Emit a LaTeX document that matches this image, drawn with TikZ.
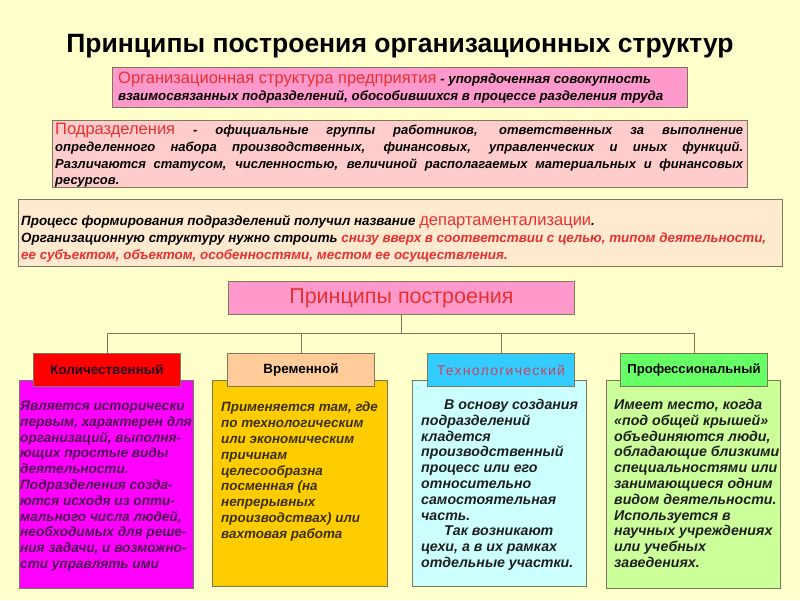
\documentclass[tikz,border=0pt]{standalone}
\usepackage{fontspec}
\setmainfont{Liberation Sans}
\definecolor{bg}{HTML}{FFFFCC}
\definecolor{pinkA}{HTML}{FF99CC}
\definecolor{pinkB}{HTML}{FFCCCC}
\definecolor{peachC}{HTML}{FFE9CF}
\definecolor{edge}{HTML}{7A7A5A}
\definecolor{redtxt}{HTML}{E8312F}
\definecolor{hred}{HTML}{FF0000}
\definecolor{hpeach}{HTML}{FFCC99}
\definecolor{hcyan}{HTML}{33CCFF}
\definecolor{hgreen}{HTML}{66FF66}
\definecolor{bmag}{HTML}{FF00FF}
\definecolor{bgold}{HTML}{FFCC00}
\definecolor{bcyan}{HTML}{CCFFFF}
\definecolor{bgreen}{HTML}{CCFF99}
\definecolor{tmag}{HTML}{4B0050}
\definecolor{tgold}{HTML}{3A3000}
\definecolor{ttech}{HTML}{D04060}
\definecolor{tdark}{HTML}{1E1E1E}
\begin{document}
\begin{tikzpicture}[x=1pt,y=-1pt,
  box/.style={draw=edge, line width=0.9pt, inner sep=0pt, anchor=north west},
  txt/.style={inner sep=0pt, anchor=north west, align=left},
  bi/.style={font=\fontsize{#1}{15.8}\selectfont\bfseries\itshape},
  hdr/.style={box, minimum height=33pt, minimum width=147pt},
  conn/.style={draw=edge, line width=0.9pt}]
\path[fill=bg] (0,0) rectangle (800,600);
% title
\node[font=\fontsize{26.5}{30}\selectfont\bfseries] (title) at (400,46) {Принципы построения организационных структур};
% box 1
\node[box, fill=pinkA, minimum width=575pt, minimum height=40pt] (def) at (112,67) {};
\node[txt, font=\fontsize{13.3}{17}\selectfont] (deft) at (118,72)
 {{\fontsize{16.5}{17}\selectfont\color{redtxt}Организационная структура предприятия} \textbf{\textit{- упорядоченная совокупность}}\\
  \textbf{\textit{взаимосвязанных подразделений, обособившихся в процессе разделения труда}}};
% box 2
\node[box, fill=pinkB, minimum width=695pt, minimum height=67pt] (sub) at (52,120) {};
\node[txt, font=\fontsize{13}{16.8}\selectfont\bfseries\itshape] (subt) at (55,123)
 {\makebox[688pt][s]{{\fontsize{16.5}{16.8}\selectfont\mdseries\upshape\color{redtxt}Подразделения} - официальные группы работников, ответственных за выполнение}\\
  \makebox[688pt][s]{определенного набора производственных, финансовых, управленческих и иных функций.}\\
  \makebox[688pt][s]{Различаются статусом, численностью, величиной располагаемых материальных и финансовых}\\
  ресурсов.};
% box 3
\node[box, fill=peachC, minimum width=764pt, minimum height=67pt] (proc) at (18,199) {};
\node[txt, font=\fontsize{13.4}{17.2}\selectfont\bfseries\itshape] (proct) at (21,215)
 {Процесс формирования подразделений получил название {\fontsize{16.5}{17.2}\selectfont\mdseries\upshape\color{redtxt}департаментализации}.\\
  Организационную структуру нужно строить {\color{redtxt}снизу вверх в соответствии с целью, типом деятельности,}\\
  {\color{redtxt}ее субъектом, объектом, особенностями, местом ее осуществления.}};
% principles
\node[box, fill=pinkA, minimum width=346pt, minimum height=33pt] (prin) at (228,281) {};
\node[font=\fontsize{21.5}{24}\selectfont, text=redtxt] (print) at (prin.center) {Принципы построения};
% bodies
\node[box, fill=bmag, minimum width=174pt, minimum height=208pt] (b1) at (19,380) {};
\node[box, fill=bgold, minimum width=175pt, minimum height=206pt] (b2) at (212,380) {};
\node[box, fill=bcyan, minimum width=174pt, minimum height=206pt] (b3) at (412,380) {};
\node[box, fill=bgreen, minimum width=174pt, minimum height=208pt] (b4) at (606,380) {};
% headers
\node[hdr, fill=hred] (h1) at (33,353) {};
\node[font=\fontsize{13.4}{15}\selectfont\bfseries, text=tmag!40!black] at (h1.center) {Количественный};
\node[hdr, fill=hpeach] (h2) at (227,353) {};
\node[font=\fontsize{13.4}{15}\selectfont\bfseries, text=black] at (h2.center) {Временной};
\node[hdr, fill=hcyan] (h3) at (427,353) {};
\node[font=\fontsize{14}{15}\selectfont\addfontfeature{LetterSpace=9}, text=ttech] at (h3.center) {Технологический};
\node[hdr, fill=hgreen] (h4) at (620,353) {};
\node[font=\fontsize{13.1}{15}\selectfont\bfseries, text=black] at (h4.center) {Профессиональный};
% connectors
\coordinate (bus) at (400,333);
\draw[conn] (prin.south) -- (prin.south |- bus);
\draw[conn] (h1.north) -- (h1.north |- bus) -- (h4.north |- bus) -- (h4.north);
\draw[conn] (h2.north) -- (h2.north |- bus);
\draw[conn] (h3.north) -- (h3.north |- bus);
% body texts
\node[txt, bi=13.6, text=tmag] (t1) at (20,401)
 {Является исторически\\первым, характерен для\\организаций, выполня-\\ющих простые виды\\деятельности.\\Подразделения созда-\\ются исходя из опти-\\мального числа людей,\\необходимых для реше-\\ния задачи, и возможно-\\сти управлять ими};
\node[txt, bi=13.4, text=tgold] (t2) at (221,402)
 {Применяется там, где\\по технологическим\\или экономическим\\причинам\\целесообразна\\посменная (на\\непрерывных\\производствах) или\\вахтовая работа};
\node[txt, bi=14.2, text=tdark] (t3) at (421,399)
 {\hspace*{23pt}В основу создания\\подразделений\\кладется\\производственный\\процесс или его\\относительно\\самостоятельная\\часть.\\\hspace*{23pt}Так возникают\\цехи, а в их рамках\\отдельные участки.};
\node[txt, bi=14.2, text=tdark] (t4) at (614,399)
 {Имеет место, когда\\«под общей крышей»\\объединяются люди,\\обладающие близкими\\специальностями или\\занимающиеся одним\\видом деятельности.\\Используется в\\научных учреждениях\\или учебных\\заведениях.};
\end{tikzpicture}
\end{document}
